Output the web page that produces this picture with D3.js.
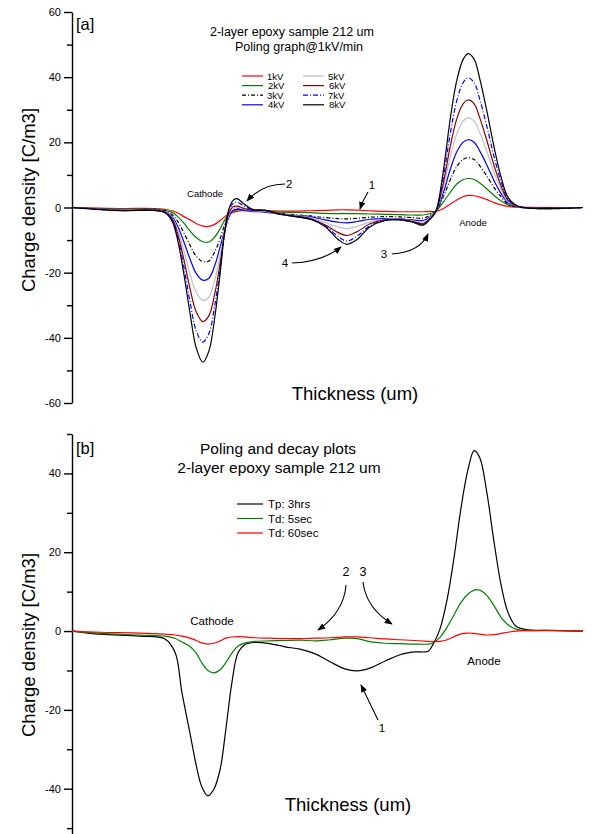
<!DOCTYPE html>
<html>
<head>
<meta charset="utf-8">
<script src="https://cdn.jsdelivr.net/npm/d3@7"></script>
<style>
  body { margin: 0; background: #fff; }
  svg { display: block; font-family: "Liberation Sans", Arial, sans-serif; }
  .axis path, .axis line { stroke: #000; stroke-width: 1.4; }
  .axis text { font-size: 11px; fill: #000; }
  .curve { fill: none; stroke-width: 1.2; }
</style>
</head>
<body>
<svg id="chart" width="593" height="834"></svg>
<script>
// ---- panel [a] data: poling steps, thickness in arbitrary units (0..100) ----
const thicknessA = [0, 9.4, 16.2, 18.2, 19.6, 20.7, 21.9, 23.1, 24.3, 25.6, 26.8, 28.0, 29.0, 29.9, 30.7, 31.5,
  32.3, 33.5, 35.2, 37.8, 40.7, 43.6, 46.6, 49.5, 52.1, 53.8, 55.8, 58.3, 61.3, 64.2, 66.7, 68.7, 70.1,
  71.2, 72.6, 74.0, 75.3, 76.5, 77.5, 78.7, 79.8, 81.2, 82.6, 84.0, 85.3, 87.3, 100];

const kv1 = [0, -0.3, -0.3, -0.6, -1.0, -1.7, -2.8, -3.8, -4.9, -5.7, -5.8, -5.1, -4.0, -2.8, -2.0, -1.5,
  -1.2, -1.0, -1.0, -1.0, -1.1, -1.1, -1.0, -0.9, -0.7, -0.7, -0.8, -1.0, -1.2, -1.3, -1.3, -1.3, -1.2,
  -1.2, -0.4, 1.0, 2.3, 3.3, 3.7, 3.6, 3.2, 2.4, 1.5, 0.8, 0.3, 0.1, 0];
const kv2 = [0, -0.5, -0.5, -0.9, -1.5, -2.8, -4.8, -7.2, -9.2, -10.5, -10.6, -8.9, -6.5, -3.8, -2.0, -1.0,
  -0.7, -0.7, -0.9, -1.2, -1.4, -1.5, -1.6, -1.8, -1.9, -1.9, -1.9, -2.0, -2.1, -2.2, -2.3, -2.3, -1.8,
  -1.2, 1.5, 4.6, 7.2, 8.5, 8.9, 8.6, 7.5, 5.7, 3.7, 2.0, 0.8, 0.1, 0];
const kv3 = [0, -0.7, -0.6, -1.1, -2.2, -4.3, -7.8, -11.6, -14.9, -16.6, -16.4, -13.4, -9.5, -5.2, -2.3, -0.8,
  -0.4, -0.6, -1.0, -1.3, -1.8, -2.2, -2.6, -3.1, -3.4, -3.5, -3.3, -3.0, -2.8, -2.9, -3.1, -3.3, -2.3,
  -1.2, 3.0, 8.4, 12.6, 14.7, 15.3, 14.7, 12.8, 9.6, 6.1, 3.2, 1.1, 0.1, 0];
const kv4 = [0, -0.8, -0.8, -1.3, -2.8, -5.8, -10.6, -15.8, -20.2, -22.3, -21.7, -17.5, -12.0, -7.0, -3.0, -1.0,
  -0.6, -0.8, -1.2, -1.4, -2.0, -2.4, -2.8, -3.8, -4.5, -4.7, -4.3, -3.6, -3.4, -3.5, -3.8, -4.0, -2.8,
  -1.2, 4.2, 11.6, 17.1, 20.0, 20.8, 20.0, 17.3, 13.0, 8.2, 4.2, 1.5, 0.2, 0];
const kv5 = [0, -0.8, -0.8, -1.4, -3.2, -7.0, -13.3, -20.4, -26.0, -28.5, -27.4, -21.8, -14.6, -7.2, -2.3, -0.3,
  0.0, -0.4, -1.0, -1.2, -2.0, -2.5, -3.1, -4.6, -6.0, -6.5, -5.8, -4.4, -3.6, -3.6, -4.1, -4.6, -3.0,
  -1.2, 5.8, 15.4, 22.6, 26.4, 27.5, 26.5, 22.9, 17.1, 10.8, 5.4, 1.9, 0.2, 0];
const kv6 = [0, -0.9, -0.9, -1.5, -3.5, -8.2, -16.0, -25.0, -32.0, -35.0, -33.2, -26.0, -17.0, -7.6, -1.8, 0.2,
  0.4, -0.2, -0.9, -1.0, -2.1, -2.6, -3.4, -5.3, -7.7, -8.6, -7.4, -5.0, -3.8, -3.7, -4.3, -5.0, -3.3,
  -1.2, 7.0, 18.6, 27.2, 31.7, 33.0, 31.8, 27.5, 20.5, 12.9, 6.5, 2.3, 0.3, 0];
const kv7 = [0, -0.9, -0.9, -1.5, -3.8, -9.2, -18.3, -29.0, -37.8, -41.3, -38.6, -29.5, -18.5, -7.5, -1.0, 1.2,
  1.6, 0.6, -0.7, -0.9, -2.1, -2.7, -3.5, -5.6, -8.9, -10.3, -8.8, -5.6, -3.9, -3.8, -4.5, -5.4, -3.5,
  -1.2, 8.6, 22.5, 32.8, 38.2, 39.8, 38.3, 33.2, 24.8, 15.6, 7.8, 2.7, 0.3, 0];
const kv8 = [0, -1.0, -0.9, -1.6, -4.2, -10.2, -20.5, -32.5, -43.0, -47.5, -44.0, -33.0, -20.0, -7.2, -0.5, 2.2,
  2.7, 1.3, -0.5, -0.8, -2.0, -2.8, -3.6, -5.8, -9.8, -11.3, -9.8, -6.0, -4.0, -3.8, -4.5, -5.4, -3.5,
  -1.2, 10.5, 27.0, 39.0, 45.3, 47.2, 45.5, 39.5, 29.5, 18.5, 9.2, 3.2, 0.4, 0];

const labelsA = ["1kV", "2kV", "3kV", "4kV", "5kV", "6kV", "7kV", "8kV"];
const colorsA = ["#ff0000", "#008000", "#000000", "#0000ff", "#c0c0c0", "#8b0000", "#0000ff", "#000000"];
const dashesA = [null, null, "4,2,1,2", null, null, null, "5,2,1,2", null];

// ---- panel [b] data: poling and decay ----
const thicknessB = [0, 5.5, 13.3, 18.2, 20.2, 21.5, 23.1, 24.3, 25.4, 26.6, 27.8, 29.0, 30.1, 31.3, 32.5, 33.9,
  35.8, 38.7, 41.7, 44.6, 47.6, 50.5, 53.4, 55.8, 58.3, 61.3, 64.2, 67.1, 69.7, 70.8, 72.0, 73.4, 74.8,
  76.1, 77.5, 78.7, 79.8, 81.2, 82.6, 84.0, 85.3, 86.9, 89.2, 92.6, 100];

const tp3hrs = [0, -0.8, -1.3, -2.0, -5.5, -15.5, -26.0, -34.0, -39.5, -41.8, -40.0, -35.0, -25.0, -13.0, -5.5, -3.4,
  -2.9, -3.2, -4.0, -4.6, -5.8, -7.8, -9.6, -10.1, -9.4, -7.6, -6.0, -5.3, -5.1, -3.0, 0.5, 8.0, 19.0,
  31.0, 41.0, 45.8, 44.0, 35.0, 22.5, 11.5, 4.8, 1.2, 0.3, 0.2, 0];
const td5sec = [0, -0.6, -1.0, -1.3, -1.9, -2.8, -3.9, -5.6, -8.0, -10.0, -10.6, -9.8, -8.0, -5.6, -3.8, -3.0,
  -2.6, -2.5, -2.4, -2.3, -2.5, -2.2, -1.8, -1.9, -2.7, -3.1, -3.2, -3.3, -3.3, -2.9, -1.6, 1.0, 4.2,
  7.2, 9.4, 10.4, 10.4, 9.0, 6.4, 3.4, 1.6, 0.5, 0.1, 0.2, 0];
const td60sec = [0, -0.3, -0.5, -0.8, -1.0, -1.3, -1.8, -2.4, -3.0, -3.3, -3.1, -2.5, -1.8, -1.5, -1.4, -1.5,
  -1.7, -1.8, -1.9, -1.9, -1.8, -1.7, -1.5, -1.5, -1.7, -2.0, -2.2, -2.4, -2.6, -2.7, -2.6, -2.2, -1.4,
  -0.7, -0.5, -0.6, -0.8, -1.0, -0.9, -0.6, -0.3, 0, 0.1, 0.1, 0];

const labelsB = ["Tp: 3hrs", "Td: 5sec", "Td: 60sec"];
const colorsB = ["#000000", "#008000", "#ff0000"];

const ticksA = [-60, -40, -20, 0, 20, 40, 60];
const minorA = [-50, -30, -10, 10, 30, 50];
const ticksB = [-40, -20, 0, 20, 40];
const minorB = [-50, -30, -10, 10, 30, 50];

const svg = d3.select("#chart");

// arrow head marker
svg.append("defs").append("marker")
  .attr("id", "head")
  .attr("viewBox", "0 0 10 10")
  .attr("refX", 9).attr("refY", 5)
  .attr("markerWidth", 8).attr("markerHeight", 8)
  .attr("markerUnits", "userSpaceOnUse")
  .attr("orient", "auto")
  .append("path").attr("d", "M0,1 L10,5 L0,9 Z").attr("fill", "#000");

const xScale = d3.scaleLinear().domain([0, 100]).range([72, 583]);
const yA = d3.scaleLinear().domain([-60, 60]).range([403, 12]);
const yB = d3.scaleLinear().domain([-52, 50]).range([836, 434]);

function drawAxis(yScale, major, minor) {
  const g = svg.append("g").attr("class", "axis").attr("transform", "translate(72,0)");
  g.call(d3.axisLeft(yScale).tickValues(major).tickSize(8).tickSizeOuter(0)
    .tickPadding(3).tickFormat(d => String(d)));
  svg.append("g").attr("class", "axis").attr("transform", "translate(72,0)")
    .call(d3.axisLeft(yScale).tickValues(minor).tickSize(5).tickSizeOuter(0).tickFormat(""))
    .select(".domain").remove();
}

function drawCurves(xs, series, yScale, colors, dashes) {
  series.forEach((vals, i) => {
    const line = d3.line()
      .x((d, j) => xScale(xs[j]))
      .y(d => yScale(d))
      .curve(d3.curveCatmullRom.alpha(0.5));
    svg.append("path")
      .attr("class", "curve")
      .attr("d", line(vals))
      .attr("stroke", colors[i])
      .attr("stroke-dasharray", dashes ? dashes[i] : null);
  });
}

function text(x, y, str, size, anchor) {
  return svg.append("text").attr("x", x).attr("y", y)
    .attr("font-size", size).attr("text-anchor", anchor || "start").text(str);
}

function arrow(d) {
  svg.append("path").attr("d", d).attr("fill", "none").attr("stroke", "#000")
    .attr("stroke-width", 1.1).attr("marker-end", "url(#head)");
}

// ---------------- panel [a] ----------------
drawAxis(yA, ticksA, minorA);
drawCurves(thicknessA, [kv1, kv2, kv3, kv4, kv5, kv6, kv7, kv8], yA, colorsA, dashesA);

text(76, 30, "[a]", 16.5);
text(292, 36, "2-layer epoxy sample 212 um", 12.5, "middle");
text(299, 51, "Poling graph@1kV/min", 12.5, "middle");

labelsA.forEach((lab, i) => {
  const col = Math.floor(i / 4), row = i % 4;
  const lx = col === 0 ? 242 : 303;
  const ly = 76 + row * 9.6;
  svg.append("line").attr("x1", lx).attr("x2", lx + 21).attr("y1", ly).attr("y2", ly)
    .attr("stroke", colorsA[i]).attr("stroke-width", 1.2)
    .attr("stroke-dasharray", dashesA[i]);
  text(lx + 25 + (row % 2), ly + 3.5, lab, 9.5);
});

text(205, 197, "Cathode", 9.5, "middle");
text(473, 226, "Anode", 9.5, "middle");
text(286, 188, "2", 11.5);
arrow("M285,184 Q262,184 247,201");
text(372, 189, "1", 11.5, "middle");
arrow("M368,192 Q363,200 360,209");
text(285, 267, "4", 11.5, "middle");
arrow("M292,263 Q322,262 341,247");
text(384, 258, "3", 11.5, "middle");
arrow("M392,254 Q420,252 428,234");

text(355, 400, "Thickness (um)", 18.5, "middle");
svg.append("text").attr("transform", "translate(35,200) rotate(-90)")
  .attr("text-anchor", "middle").attr("font-size", 18.5).text("Charge density [C/m3]");

// ---------------- panel [b] ----------------
drawAxis(yB, ticksB, minorB);
drawCurves(thicknessB, [tp3hrs, td5sec, td60sec], yB, colorsB, null);

text(76, 454, "[b]", 16.5);
text(278, 454, "Poling and decay plots", 15.5, "middle");
text(279, 473, "2-layer epoxy sample 212 um", 15.5, "middle");

labelsB.forEach((lab, i) => {
  const ly = 504 + i * 14.5;
  svg.append("line").attr("x1", 237).attr("x2", 263).attr("y1", ly).attr("y2", ly)
    .attr("stroke", colorsB[i]).attr("stroke-width", 1.2);
  text(268, ly + 4, lab, 11.5);
});

text(212, 625, "Cathode", 11.5, "middle");
text(484, 665, "Anode", 11.5, "middle");
text(346, 576, "2", 12.5, "middle");
arrow("M346,585 Q344,612 318,630");
text(363, 576, "3", 12.5, "middle");
arrow("M363,582 Q366,608 392,624");
text(382, 732, "1", 11.5, "middle");
arrow("M378,720 L361,685");

text(348, 811, "Thickness (um)", 18.5, "middle");
svg.append("text").attr("transform", "translate(35,645) rotate(-90)")
  .attr("text-anchor", "middle").attr("font-size", 18.5).text("Charge density [C/m3]");
</script>
</body>
</html>
